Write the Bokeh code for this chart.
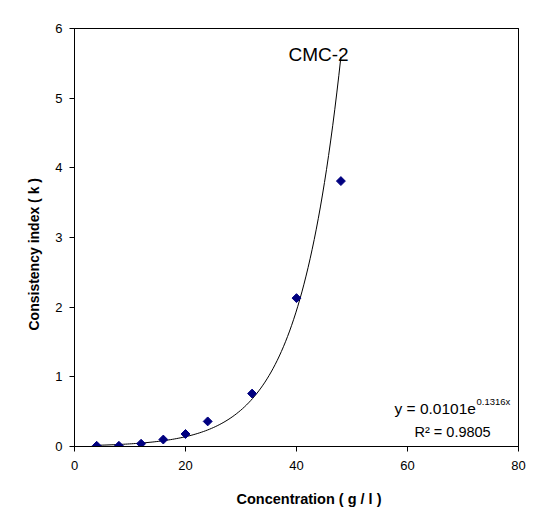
import numpy as np
from math import pi
from bokeh.plotting import figure
from bokeh.models import Range1d, Label, FixedTicker, ColumnDataSource, Title, LinearAxis
from bokeh.embed import file_html
from bokeh.resources import INLINE

# ---- data ----
concentration = [4, 8, 12, 16, 20, 24, 32, 40, 48]
consistency_k = [0.01, 0.01, 0.04, 0.10, 0.18, 0.36, 0.76, 2.13, 3.81]
fit_a = 0.0101
fit_b = 0.1316
x_ticks = [0, 20, 40, 60, 80]
y_ticks = [0, 1, 2, 3, 4, 5, 6]
series_name = "CMC-2"
equation_text = "y = 0.0101e"
equation_exp = "0.1316x"
r2_text = "R\u00b2 = 0.9805"
x_title = "Concentration  ( g / l )"
y_title = "Consistency index ( k )"

FONT = "Liberation Sans"

# trendline from the displayed fit equation
trend_x = np.linspace(min(concentration), max(concentration), 120)
trend_y = fit_a * np.exp(fit_b * trend_x)

p = figure(width=527, height=527, output_backend="svg", toolbar_location=None,
           x_range=Range1d(0, 80), y_range=Range1d(0, 6),
           min_border_left=74, min_border_right=9, min_border_top=28, min_border_bottom=81)
p.background_fill_color = "white"
p.border_fill_color = "white"
p.outline_line_color = "black"
p.outline_line_width = 1
p.outline_line_alpha = 1
p.grid.visible = False

for ax in (p.xaxis[0], p.yaxis[0]):
    ax.axis_line_color = "black"
    ax.major_tick_line_color = "black"
    ax.major_tick_out = 5
    ax.major_tick_in = 0
    ax.minor_tick_line_color = None
    ax.major_label_text_font = FONT
    ax.major_label_text_font_size = "13px"
    ax.major_label_text_color = "black"
p.xaxis[0].ticker = FixedTicker(ticks=x_ticks)
p.yaxis[0].ticker = FixedTicker(ticks=y_ticks)
p.xaxis[0].major_label_standoff = 9
p.yaxis[0].major_label_standoff = 7

# top and right frame lines
for side in ("above", "right"):
    frame_ax = LinearAxis(ticker=FixedTicker(ticks=[]), axis_line_color="black",
                          major_tick_line_color=None, minor_tick_line_color=None,
                          major_label_text_font_size="0px")
    p.add_layout(frame_ax, side)

src_pts = ColumnDataSource(dict(x=concentration, y=consistency_k))
src_fit = ColumnDataSource(dict(x=trend_x, y=trend_y))
p.line("x", "y", source=src_fit, line_color="black", line_width=1)
p.scatter("x", "y", source=src_pts, marker="square", size=6.3, angle=pi / 4,
          fill_color="#000080", line_color="#000080")

# axis titles as side titles (offset mimics the reference placement)
p.add_layout(Title(text=x_title, align="left", offset=162, standoff=32,
                   text_font=FONT, text_font_size="14.5px", text_font_style="bold",
                   text_color="black"), "below")
p.add_layout(Title(text=y_title, align="left", offset=116, standoff=22,
                   text_font=FONT, text_font_size="14px", text_font_style="bold",
                   text_color="black"), "left")

# image-pixel -> data helpers for annotation placement
def dx(px):
    return (px - 74) / 5.55

def dy(py):
    return (446 - py) / 69.67

def lab(text, px, py, size, align="left", baseline="alphabetic"):
    p.add_layout(Label(x=dx(px), y=dy(py), text=text, text_font=FONT,
                       text_font_size=size, text_align=align, text_baseline=baseline,
                       text_color="black"))

lab(series_name, 318, 54, "19px", align="center")
lab(equation_text, 394, 408, "15.5px")
lab(equation_exp, 476, 401, "9.5px")
lab(r2_text, 414, 431, "14.5px")

open("out.html", "w").write(file_html(p, INLINE))
